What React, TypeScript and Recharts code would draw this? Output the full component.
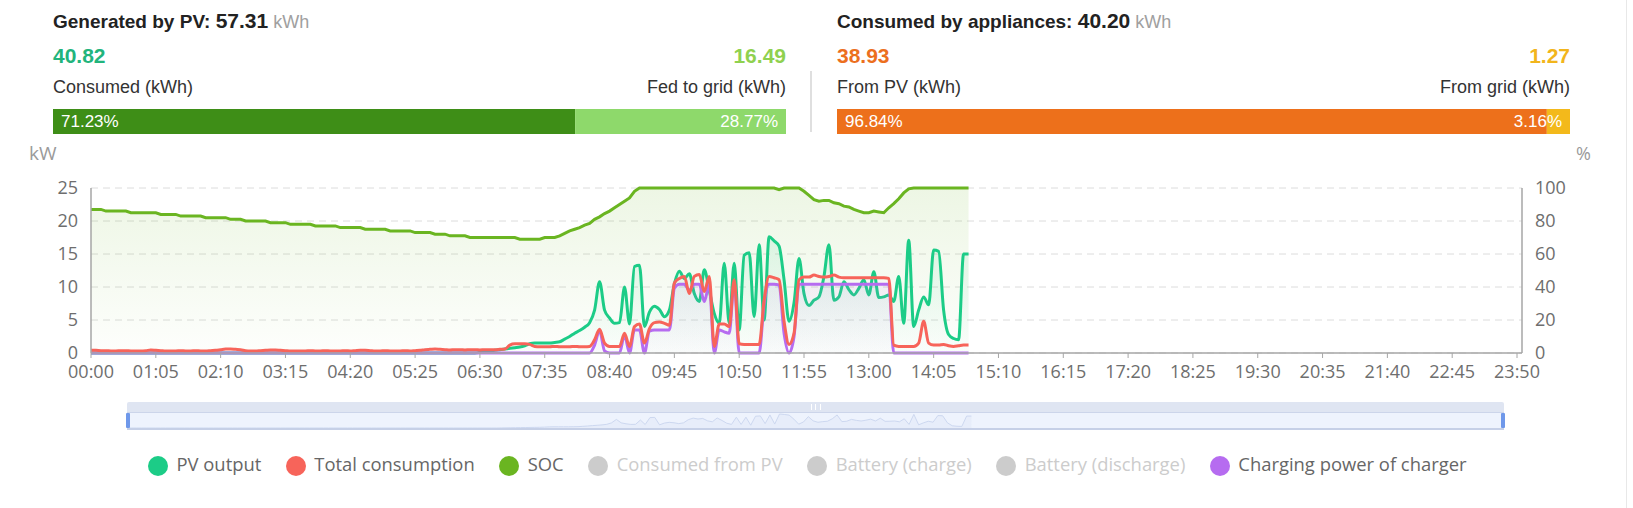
import React from 'react';
import { ComposedChart, AreaChart, Area, Line, XAxis, YAxis, CartesianGrid } from 'recharts';

// ---------- categories ----------
const TIME_LABELS: string[] = Array.from({ length: 288 }, (_, i) => {
  const m = i * 5;
  return `${String(Math.floor(m / 60)).padStart(2, '0')}:${String(m % 60).padStart(2, '0')}`;
});

// ---------- series (kW), index = 5-minute slot from 00:00 ----------
const PV_OUTPUT: number[] = [
  0, 0, 0, 0, 0, 0, 0, 0, 0, 0,
  0, 0, 0, 0, 0, 0, 0, 0, 0, 0,
  0, 0, 0, 0, 0, 0, 0, 0, 0, 0,
  0, 0, 0, 0, 0, 0, 0, 0, 0, 0,
  0, 0, 0, 0, 0, 0, 0, 0, 0, 0,
  0, 0, 0, 0, 0, 0, 0, 0, 0, 0,
  0, 0, 0, 0, 0, 0, 0, 0, 0, 0,
  0, 0, 0, 0, 0, 0, 0, 0, 0.1, 0.2,
  0.3, 0.4, 0.5, 0.6, 0.7, 0.8, 0.9, 1.1, 1.4, 1.5,
  1.5, 1.5, 1.5, 1.6, 1.7, 2.1, 2.5, 3.0, 3.4, 3.9,
  4.6, 6.5, 10.8, 6.5, 5.3, 4.5, 4.6, 10.0, 4.4, 13.1,
  13.3, 4.0, 6.2, 7.1, 6.6, 5.5, 6.5, 10.5, 12.4, 11.3,
  12.0, 9.0, 7.8, 12.6, 9.5, 6.0, 4.5, 13.6, 4.5, 13.6,
  3.5, 14.8, 15.2, 5.5, 16.4, 5.0, 17.6, 17.0, 16.2, 11.1,
  4.8, 7.6, 14.3, 9.0, 7.2, 8.0, 8.5, 11.6, 16.4, 8.0,
  8.5, 10.8, 9.6, 8.8, 9.8, 11.1, 8.8, 12.3, 8.4, 8.5,
  8.8, 7.8, 11.6, 4.5, 17.1, 4.0, 6.5, 8.5, 7.3, 15.6,
  15.4, 6.5, 2.8, 2.2, 2.0, 15.0, 15.0,
];

const TOTAL_CONSUMPTION: number[] = [
  0.4, 0.4, 0.35, 0.35, 0.3, 0.3, 0.35, 0.35, 0.3, 0.3,
  0.3, 0.35, 0.45, 0.4, 0.35, 0.3, 0.3, 0.3, 0.35, 0.3,
  0.3, 0.35, 0.3, 0.3, 0.35, 0.4, 0.5, 0.6, 0.6, 0.55,
  0.5, 0.35, 0.3, 0.3, 0.35, 0.4, 0.45, 0.45, 0.4, 0.35,
  0.3, 0.3, 0.3, 0.3, 0.35, 0.3, 0.3, 0.35, 0.3, 0.3,
  0.3, 0.35, 0.3, 0.35, 0.4, 0.4, 0.35, 0.3, 0.3, 0.35,
  0.3, 0.3, 0.3, 0.35, 0.3, 0.35, 0.4, 0.5, 0.55, 0.6,
  0.55, 0.5, 0.45, 0.5, 0.5, 0.45, 0.5, 0.5, 0.45, 0.5,
  0.5, 0.5, 0.55, 0.6, 1.2, 1.4, 1.4, 1.4, 1.3, 1.0,
  0.95, 0.95, 0.95, 1.0, 0.95, 0.95, 0.95, 1.0, 0.95, 0.95,
  1.0, 2.0, 3.6, 1.5, 1.0, 1.0, 1.0, 3.0, 1.0, 4.0,
  4.4, 1.5, 3.7, 4.6, 4.7, 4.5, 4.2, 10.6, 11.3, 11.6,
  9.0, 11.6, 11.9, 9.3, 11.6, 1.0, 4.4, 4.4, 4.0, 11.1,
  1.4, 1.3, 1.3, 1.3, 1.3, 8.0, 11.6, 11.4, 11.1, 4.8,
  1.3, 3.0, 11.1, 11.5, 11.5, 11.8, 11.6, 11.5, 11.6, 11.8,
  11.5, 11.4, 11.4, 11.4, 11.4, 11.4, 11.4, 11.4, 11.4, 11.4,
  11.3, 1.2, 1.0, 1.0, 1.0, 1.0, 1.5, 4.8, 1.5, 1.2,
  1.2, 1.3, 1.1, 1.0, 1.1, 1.2, 1.2,
];

const CHARGER_POWER: number[] = [
  0, 0, 0, 0, 0, 0, 0, 0, 0, 0,
  0, 0, 0, 0, 0, 0, 0, 0, 0, 0,
  0, 0, 0, 0, 0, 0, 0, 0, 0, 0,
  0, 0, 0, 0, 0, 0, 0, 0, 0, 0,
  0, 0, 0, 0, 0, 0, 0, 0, 0, 0,
  0, 0, 0, 0, 0, 0, 0, 0, 0, 0,
  0, 0, 0, 0, 0, 0, 0, 0, 0, 0,
  0, 0, 0, 0, 0, 0, 0, 0, 0, 0,
  0, 0, 0, 0, 0, 0, 0, 0, 0, 0,
  0, 0, 0, 0, 0, 0, 0, 0, 0, 0,
  0, 1.2, 3.4, 0.3, 0, 0, 0, 2.7, 0, 3.5,
  3.5, 0, 3.3, 3.5, 3.5, 3.5, 3.5, 9.8, 10.4, 10.4,
  9.5, 10.4, 10.4, 7.8, 10.4, 0, 3.5, 3.2, 3.0, 10.7,
  0, 0, 0, 0, 0, 7.5, 10.4, 10.4, 10.3, 3.0,
  0, 2.5, 10.4, 10.4, 10.4, 10.4, 10.4, 10.4, 10.4, 10.4,
  10.4, 10.4, 10.4, 10.4, 10.4, 10.4, 10.4, 10.4, 10.4, 10.4,
  10.4, 0, 0, 0, 0, 0, 0, 0, 0, 0,
  0, 0, 0, 0, 0, 0, 0,
];

// SOC (%)
const SOC: number[] = [
  87, 87, 87, 86, 86, 86, 86, 86, 85, 85,
  85, 85, 85, 85, 84, 84, 84, 84, 83, 83,
  83, 83, 83, 82, 82, 82, 82, 82, 81, 81,
  81, 80, 80, 80, 80, 80, 79, 79, 79, 79,
  78, 78, 78, 78, 78, 77, 77, 77, 77, 77,
  76, 76, 76, 76, 76, 75, 75, 75, 75, 75,
  74, 74, 74, 74, 74, 73, 73, 73, 73, 72,
  72, 72, 71, 71, 71, 71, 70, 70, 70, 70,
  70, 70, 70, 70, 70, 70, 69, 69, 69, 69,
  69, 70, 70, 70, 71, 72.5, 74, 75, 76, 77.5,
  78.5, 81, 82.5, 84.5, 86, 88, 90, 92, 94, 98,
  100, 100, 100, 100, 100, 100, 100, 100, 100, 100,
  100, 100, 100, 100, 100, 100, 100, 100, 100, 100,
  100, 100, 100, 100, 100, 100, 100, 100, 99, 100,
  100, 100, 100, 98, 95.5, 93, 92, 92.5, 92.5, 91,
  90.5, 89, 88.5, 87, 86, 85, 85, 86, 85.5, 85,
  88, 90.5, 93.5, 97, 99.5, 100, 100, 100, 100, 100,
  100, 100, 100, 100, 100, 100, 100,
];

// ---------- axis ticks ----------
const KW_TICKS = [0, 5, 10, 15, 20, 25];
const PCT_TICKS = [0, 20, 40, 60, 80, 100];

// ---------- summary values ----------
const PV_SUMMARY = { total: '57.31', consumed: '40.82', fed: '16.49', consumedPct: 71.23, fedPct: 28.77 };
const APPL_SUMMARY = { total: '40.20', fromPv: '38.93', fromGrid: '1.27', pvPct: 96.84, gridPct: 3.16 };

// ---------- legend ----------
const LEGEND_ITEMS = [
  { name: 'PV output', color: '#1ccc87', active: true },
  { name: 'Total consumption', color: '#f7645a', active: true },
  { name: 'SOC', color: '#6ab521', active: true },
  { name: 'Consumed from PV', color: '#cccccc', active: false },
  { name: 'Battery (charge)', color: '#cccccc', active: false },
  { name: 'Battery (discharge)', color: '#cccccc', active: false },
  { name: 'Charging power of charger', color: '#b66cf0', active: true },
];

const rows = TIME_LABELS.map((t, i) => ({
  time: t,
  pv: i < PV_OUTPUT.length ? PV_OUTPUT[i] : null,
  load: i < TOTAL_CONSUMPTION.length ? TOTAL_CONSUMPTION[i] : null,
  soc: i < SOC.length ? SOC[i] : null,
  charger: i < CHARGER_POWER.length ? CHARGER_POWER[i] : null,
}));

const CHART_FONT = "'Open Sans', sans-serif";
const HEAD_FONT = "'Liberation Sans', Arial, sans-serif";

const PANEL_W = 733;
const LEFT_X = 53;
const RIGHT_X = 837;
const DIVIDER_X = 811;

function Header() {
  const lw = (PANEL_W * PV_SUMMARY.consumedPct) / 100;
  const rw = (PANEL_W * APPL_SUMMARY.pvPct) / 100;
  return (
    <svg width={1633} height={170} style={{ position: 'absolute', left: 0, top: 0, fontFamily: HEAD_FONT }}>
      <text x={LEFT_X} y={28} fill="#222">
        <tspan fontWeight="bold" fontSize={19}>Generated by PV: </tspan>
        <tspan fontWeight="bold" fontSize={21}>{PV_SUMMARY.total}</tspan>
        <tspan fontSize={18} fill="#a0a0a0"> kWh</tspan>
      </text>
      <text x={LEFT_X} y={63} fill="#22b47c" fontWeight="bold" fontSize={21}>{PV_SUMMARY.consumed}</text>
      <text x={LEFT_X + PANEL_W} y={63} fill="#8fd14f" fontWeight="bold" fontSize={21} textAnchor="end">{PV_SUMMARY.fed}</text>
      <text x={LEFT_X} y={93} fill="#333" fontSize={18}>Consumed (kWh)</text>
      <text x={LEFT_X + PANEL_W} y={93} fill="#333" fontSize={18} textAnchor="end">Fed to grid (kWh)</text>
      <rect x={LEFT_X} y={109} width={lw} height={25} fill="#3e8e17" />
      <rect x={LEFT_X + lw} y={109} width={PANEL_W - lw} height={25} fill="#8ed96b" />
      <text x={LEFT_X + 8} y={127} fill="#fff" fontSize={17}>{PV_SUMMARY.consumedPct.toFixed(2)}%</text>
      <text x={LEFT_X + PANEL_W - 8} y={127} fill="#fff" fontSize={17} textAnchor="end">{PV_SUMMARY.fedPct.toFixed(2)}%</text>

      <line x1={DIVIDER_X} x2={DIVIDER_X} y1={71} y2={132} stroke="#d4d4d4" strokeWidth={1.5} />

      <text x={RIGHT_X} y={28} fill="#222">
        <tspan fontWeight="bold" fontSize={19}>Consumed by appliances: </tspan>
        <tspan fontWeight="bold" fontSize={21}>{APPL_SUMMARY.total}</tspan>
        <tspan fontSize={18} fill="#a0a0a0"> kWh</tspan>
      </text>
      <text x={RIGHT_X} y={63} fill="#ec6f1e" fontWeight="bold" fontSize={21}>{APPL_SUMMARY.fromPv}</text>
      <text x={RIGHT_X + PANEL_W} y={63} fill="#f2b51c" fontWeight="bold" fontSize={21} textAnchor="end">{APPL_SUMMARY.fromGrid}</text>
      <text x={RIGHT_X} y={93} fill="#333" fontSize={18}>From PV (kWh)</text>
      <text x={RIGHT_X + PANEL_W} y={93} fill="#333" fontSize={18} textAnchor="end">From grid (kWh)</text>
      <rect x={RIGHT_X} y={109} width={rw} height={25} fill="#ed701b" />
      <rect x={RIGHT_X + rw} y={109} width={PANEL_W - rw} height={25} fill="#f3b91b" />
      <text x={RIGHT_X + 8} y={127} fill="#fff" fontSize={17}>{APPL_SUMMARY.pvPct.toFixed(2)}%</text>
      <text x={RIGHT_X + PANEL_W - 8} y={127} fill="#fff" fontSize={17} textAnchor="end">{APPL_SUMMARY.gridPct.toFixed(2)}%</text>

      <text x={29} y={160} fill="#9a9a9a" fontSize={19} fontFamily={CHART_FONT}>kW</text>
      <text x={1576} y={160} fill="#9a9a9a" fontSize={18} fontFamily={CHART_FONT}>%</text>
    </svg>
  );
}

function Slider() {
  const left = 127;
  const width = 1377;
  return (
    <>
      <div style={{ position: 'absolute', left, top: 402, width, height: 10, background: '#dfe5f2', borderRadius: '2px 2px 0 0' }} />
      <div style={{ position: 'absolute', left: left + width / 2 - 5, top: 404, width: 10, height: 6, display: 'flex', justifyContent: 'space-between' }}>
        <div style={{ width: 1, height: 6, background: '#fff' }} />
        <div style={{ width: 1, height: 6, background: '#fff' }} />
        <div style={{ width: 1, height: 6, background: '#fff' }} />
      </div>
      <div style={{ position: 'absolute', left, top: 412, width, height: 18, background: '#eef3fd', borderTop: '1px solid #ccd5ea', borderBottom: '2px solid #c6d0e7', boxSizing: 'border-box' }} />
      <div style={{ position: 'absolute', left, top: 413 }}>
        <AreaChart width={width} height={15} data={rows} margin={{ top: 1, right: 0, bottom: 0, left: 0 }}>
          <XAxis dataKey="time" hide />
          <YAxis hide domain={[0, 'dataMax']} />
          <Area type="linear" dataKey="pv" stroke="#cdd8f0" strokeWidth={1} fill="#e3eaf8" fillOpacity={0.6} dot={false} activeDot={false} isAnimationActive={false} />
        </AreaChart>
      </div>
      <div style={{ position: 'absolute', left: left - 1, top: 413, width: 4, height: 15, background: '#6f98ea', borderRadius: 1 }} />
      <div style={{ position: 'absolute', left: left + width - 3, top: 413, width: 4, height: 15, background: '#6f98ea', borderRadius: 1 }} />
    </>
  );
}

function LegendRow() {
  return (
    <div style={{ position: 'absolute', left: 148, top: 456, display: 'flex', alignItems: 'center', gap: 24.5, fontFamily: CHART_FONT, fontSize: 18.4, whiteSpace: 'nowrap' }}>
      {LEGEND_ITEMS.map((it) => (
        <div key={it.name} style={{ display: 'flex', alignItems: 'center' }}>
          <div style={{ width: 20, height: 20, borderRadius: 10, background: it.color, marginRight: 8.5 }} />
          <span style={{ color: it.active ? '#666' : '#cccccc', lineHeight: '20px', position: 'relative', top: -2 }}>{it.name}</span>
        </div>
      ))}
    </div>
  );
}

export default function App() {
  const tickStyle = { fill: '#6e6e6e', fontSize: 18, fontFamily: CHART_FONT };
  return (
    <div style={{ position: 'absolute', left: 0, top: 0, width: 1633, height: 508, background: '#fff', overflow: 'hidden' }}>
      <div style={{ position: 'absolute', left: 0, top: 0 }}>
        <ComposedChart width={1633} height={400} data={rows} margin={{ top: 188, right: 51, bottom: 17, left: 31 }}>
          <defs>
            <linearGradient id="socFill" x1="0" y1="0" x2="0" y2="1">
              <stop offset="0%" stopColor="#6ab521" stopOpacity={0.2} />
              <stop offset="100%" stopColor="#6ab521" stopOpacity={0.02} />
            </linearGradient>
            <linearGradient id="pvFill" x1="0" y1="0" x2="0" y2="1">
              <stop offset="0%" stopColor="#1ccc87" stopOpacity={0.18} />
              <stop offset="100%" stopColor="#1ccc87" stopOpacity={0.02} />
            </linearGradient>
            <linearGradient id="chgFill" x1="0" y1="0" x2="0" y2="1">
              <stop offset="0%" stopColor="#b66cf0" stopOpacity={0.16} />
              <stop offset="100%" stopColor="#b66cf0" stopOpacity={0.03} />
            </linearGradient>
          </defs>
          <CartesianGrid yAxisId="left" vertical={false} stroke="#dcdcdc" strokeDasharray="7 5" />
          <XAxis
            dataKey="time"
            interval={12}
            tick={tickStyle}
            tickSize={5}
            tickMargin={7}
            axisLine={{ stroke: '#a6a6a6', strokeWidth: 1.5 }}
            tickLine={{ stroke: '#a6a6a6' }}
            height={30}
          />
          <YAxis
            yAxisId="left"
            domain={[0, 25]}
            ticks={KW_TICKS}
            tick={tickStyle}
            tickLine={false}
            tickSize={0}
            tickMargin={13}
            axisLine={{ stroke: '#a6a6a6', strokeWidth: 1.5 }}
            width={60}
          />
          <YAxis
            yAxisId="right"
            orientation="right"
            domain={[0, 100]}
            ticks={PCT_TICKS}
            tick={tickStyle}
            tickLine={false}
            tickSize={0}
            tickMargin={13}
            axisLine={{ stroke: '#a6a6a6', strokeWidth: 1.5 }}
            width={60}
          />
          <Area yAxisId="right" type="linear" dataKey="soc" stroke="#6ab521" strokeWidth={3} fill="url(#socFill)" dot={false} activeDot={false} isAnimationActive={false} />
          <Area yAxisId="left" type="monotone" dataKey="pv" stroke="#1ccc87" strokeWidth={3} fill="url(#pvFill)" dot={false} activeDot={false} isAnimationActive={false} />
          <Line yAxisId="left" type="monotone" dataKey="load" stroke="#f7645a" strokeWidth={3} dot={false} activeDot={false} isAnimationActive={false} />
          <Area yAxisId="left" type="monotone" dataKey="charger" stroke="#b66cf0" strokeWidth={3} fill="url(#chgFill)" dot={false} activeDot={false} isAnimationActive={false} />
        </ComposedChart>
      </div>
      <Header />
      <Slider />
      <LegendRow />
      <div style={{ position: 'absolute', left: 1626, top: 0, width: 1, height: 508, background: '#e8e8e8' }} />
    </div>
  );
}
